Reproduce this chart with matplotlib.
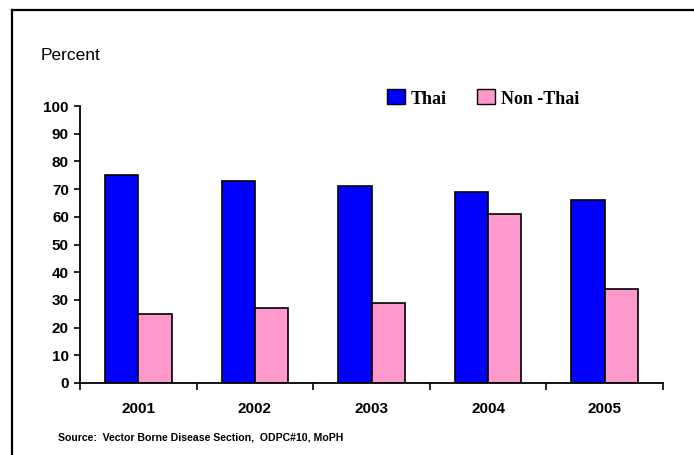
import matplotlib.pyplot as plt
import numpy as np
from matplotlib.patches import Rectangle
from matplotlib.lines import Line2D

years = ['2001', '2002', '2003', '2004', '2005']
thai = [75, 73, 71, 69, 66]
non_thai = [25, 27, 29, 61, 34]

W, H = 694, 455
fig = plt.figure(figsize=(W / 100, H / 100), dpi=100)
fig.patch.set_facecolor('white')

# axes box in pixel terms
ax = fig.add_axes([80 / W, (H - 383) / H, (663 - 80) / W, (383 - 106) / H])

x = np.arange(len(years))
bw = 0.286
ax.bar(x - bw / 2, thai, bw, color='#0000FF', edgecolor='black', linewidth=1.2)
ax.bar(x + bw / 2, non_thai, bw, color='#FF99CC', edgecolor='black', linewidth=1.2)

ax.set_xlim(-0.5, len(years) - 0.5)
ax.set_ylim(0, 100)
ax.set_yticks(range(0, 101, 10))
ax.set_xticks(x)
ax.set_xticklabels(years)
ax.set_xticks(np.arange(-0.5, len(years)), minor=True)
ax.tick_params(axis='x', which='major', length=0, pad=14)
ax.tick_params(axis='x', which='minor', length=5, width=1.2, direction='out')
ax.tick_params(axis='y', length=4, width=1.2, direction='out', pad=4)
for lab in ax.get_xticklabels() + ax.get_yticklabels():
    lab.set_fontfamily('Liberation Sans')
    lab.set_fontweight('bold')
    lab.set_fontsize(11)

for s in ['top', 'right']:
    ax.spines[s].set_visible(False)
for s in ['left', 'bottom']:
    ax.spines[s].set_linewidth(1.3)

fig.text(41 / W, 1 - 55 / H, 'Percent', fontfamily='Liberation Sans',
         fontsize=12.5, va='center', ha='left')

# legend drawn by hand
for bx, col, lbl in [(387, '#0000FF', 'Thai'), (477, '#FF99CC', 'Non -Thai')]:
    fig.add_artist(Rectangle((bx / W, 1 - 104 / H), 18 / W, 15 / H,
                             facecolor=col, edgecolor='black', linewidth=1,
                             transform=fig.transFigure))
    fig.text((bx + 24) / W, 1 - 100 / H, lbl, fontfamily='Liberation Serif',
             fontweight='bold', fontsize=13, va='center', ha='left')

fig.text(58 / W, 1 - 438 / H, 'Source:  Vector Borne Disease Section,  ODPC#10, MoPH',
         fontfamily='Liberation Sans', fontweight='bold', fontsize=7.6,
         va='center', ha='left')

# frame lines along top and left
fig.add_artist(Line2D([12 / W, 1], [1 - 10 / H, 1 - 10 / H], color='black',
                      linewidth=1.6, transform=fig.transFigure))
fig.add_artist(Line2D([12 / W, 12 / W], [0, 1 - 10 / H], color='black',
                      linewidth=1.6, transform=fig.transFigure))

fig.savefig('out.png', dpi=100)
